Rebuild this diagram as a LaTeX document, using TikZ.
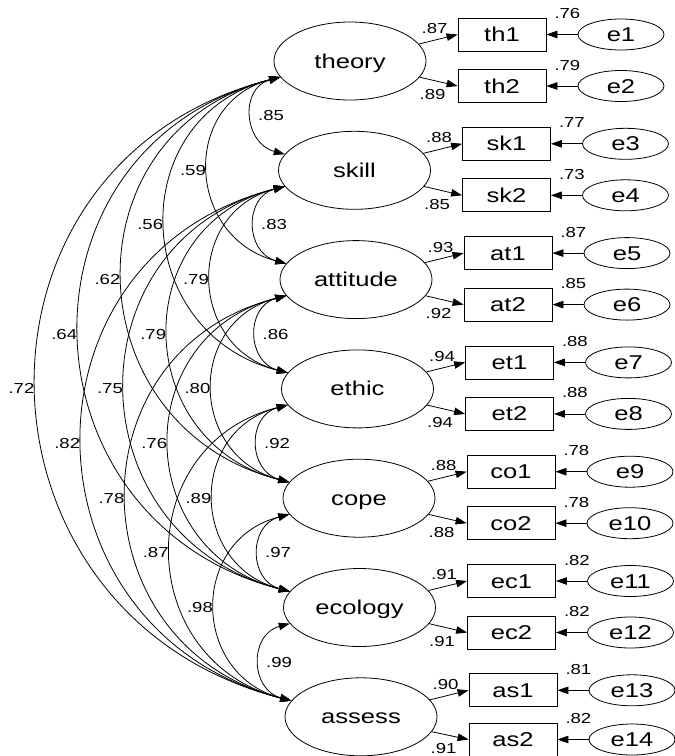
\documentclass[tikz,border=0pt]{standalone}
\usepackage{fontspec}
\setmainfont{Liberation Sans}[FakeStretch=1.28]
\usetikzlibrary{arrows.meta,calc,shapes.geometric}
\begin{document}
\begin{tikzpicture}[x=1pt,y=-1pt,
  every node/.style={inner sep=0pt},
  txt/.style={font=\fontsize{20}{20}\selectfont,text height=14.3pt,text depth=0.3pt},
  lat/.style={txt,ellipse,draw,line width=0.8pt,minimum width=152pt,minimum height=78pt},
  ind/.style={txt,rectangle,draw,line width=0.8pt,minimum width=88pt,minimum height=33pt},
  err/.style={txt,ellipse,draw,line width=0.8pt,minimum width=86pt,minimum height=31pt},
  lab/.style={font=\fontsize{14.5}{14.5}\selectfont},
  conn/.style={line width=0.8pt,-{Triangle[length=11pt,width=7.5pt]}},
  cov/.style={line width=0.8pt,{Triangle[length=11pt,width=7.5pt]}-{Triangle[length=11pt,width=7.5pt]}},
  inlab/.style={lab,midway,right=6pt},
  outlab/.style={lab,midway,left=2pt}
]
\useasboundingbox (0,0) rectangle (675,756);

% latent variables
\node[lat] (theory)   at (350,61)    {theory};
\node[lat] (skill)    at (354.5,170.3) {skill};
\node[lat] (attitude) at (356,279.6) {attitude};
\node[lat] (ethic)    at (357.5,388.9) {ethic};
\node[lat] (cope)     at (359,498.2) {cope};
\node[lat] (ecology)  at (359.5,607.5) {ecology};
\node[lat] (assess)   at (361,716.8) {assess};

% indicators
\node[ind] (th1) at (502,34.5)    {th1};
\node[ind] (th2) at (502,86)      {th2};
\node[ind] (sk1) at (506.5,143.8) {sk1};
\node[ind] (sk2) at (506.5,195.3) {sk2};
\node[ind] (at1) at (508,253.1)   {at1};
\node[ind] (at2) at (508,304.6)   {at2};
\node[ind] (et1) at (509.5,362.4) {et1};
\node[ind] (et2) at (509.5,413.9) {et2};
\node[ind] (co1) at (511,471.7)   {co1};
\node[ind] (co2) at (511,523.2)   {co2};
\node[ind] (ec1) at (511.5,581)   {ec1};
\node[ind] (ec2) at (511.5,632.5) {ec2};
\node[ind] (as1) at (513,690.3)   {as1};
\node[ind] (as2) at (513,739.5)   {as2};

% errors
\node[err] (e1)  at (621,34.5)    {e1};
\node[err] (e2)  at (621,86)      {e2};
\node[err] (e3)  at (625.5,143.8) {e3};
\node[err] (e4)  at (625.5,195.3) {e4};
\node[err] (e5)  at (627,253.1)   {e5};
\node[err] (e6)  at (627,304.6)   {e6};
\node[err] (e7)  at (628.5,362.4) {e7};
\node[err] (e8)  at (628.5,413.9) {e8};
\node[err] (e9)  at (630,471.7)   {e9};
\node[err] (e10) at (630,523.2)   {e10};
\node[err] (e11) at (630.5,581)   {e11};
\node[err] (e12) at (630.5,632.5) {e12};
\node[err] (e13) at (632,690.3)   {e13};
\node[err] (e14) at (632,739.5)   {e14};

% loadings, error paths and labels
\foreach \l/\a/\b/\la/\lb/\ea/\eb/\sa/\sb in {
  theory/th1/th2/.87/.89/e1/e2/.76/.79,
  skill/sk1/sk2/.88/.85/e3/e4/.77/.73,
  attitude/at1/at2/.93/.92/e5/e6/.87/.85,
  ethic/et1/et2/.94/.94/e7/e8/.88/.88,
  cope/co1/co2/.88/.88/e9/e10/.78/.78,
  ecology/ec1/ec2/.91/.91/e11/e12/.82/.82,
  assess/as1/as2/.90/.91/e13/e14/.81/.82}{
  \draw[conn] (\l) -- (\a.west);
  \draw[conn] (\l) -- (\b.west);
  \draw[conn] (\ea) -- (\a);
  \draw[conn] (\eb) -- (\b);
  \node[lab] at ($(\a.west)+(-23,-6)$) {\la};
  \node[lab] at ($(\b.west)+(-25,9)$) {\lb};
  \node[lab] at ($(\a.north east)+(21,-4)$) {\sa};
  \node[lab] at ($(\b.north east)+(21,-4)$) {\sb};
}

% covariances, d = 1
\draw[cov] (theory.193)   .. controls +(-41,11) and +(-41,-11) .. (skill.167)    node[inlab] {.85};
\draw[cov] (skill.193)    .. controls +(-41,11) and +(-41,-11) .. (attitude.167) node[inlab] {.83};
\draw[cov] (attitude.193) .. controls +(-41,11) and +(-41,-11) .. (ethic.167)    node[inlab] {.86};
\draw[cov] (ethic.193)    .. controls +(-41,11) and +(-41,-11) .. (cope.167)     node[inlab] {.92};
\draw[cov] (cope.193)     .. controls +(-41,11) and +(-41,-11) .. (ecology.167)  node[inlab] {.97};
\draw[cov] (ecology.193)  .. controls +(-41,11) and +(-41,-11) .. (assess.167)   node[inlab] {.99};
% d = 2
\draw[cov] (theory.193)   .. controls +(-100,26) and +(-100,-26) .. (attitude.167) node[outlab] {.59};
\draw[cov] (skill.193)    .. controls +(-100,26) and +(-100,-26) .. (ethic.167)    node[outlab] {.79};
\draw[cov] (attitude.193) .. controls +(-100,26) and +(-100,-26) .. (cope.167)     node[outlab] {.80};
\draw[cov] (ethic.193)    .. controls +(-100,26) and +(-100,-26) .. (ecology.167)  node[outlab] {.89};
\draw[cov] (cope.193)     .. controls +(-100,26) and +(-100,-26) .. (assess.167)   node[outlab] {.98};
% d = 3
\draw[cov] (theory.193)   .. controls +(-158,40) and +(-158,-40) .. (ethic.167)    node[outlab] {.56};
\draw[cov] (skill.193)    .. controls +(-158,40) and +(-158,-40) .. (cope.167)     node[outlab] {.79};
\draw[cov] (attitude.193) .. controls +(-158,40) and +(-158,-40) .. (ecology.167)  node[outlab] {.76};
\draw[cov] (ethic.193)    .. controls +(-158,40) and +(-158,-40) .. (assess.167)   node[outlab] {.87};
% d = 4
\draw[cov] (theory.193)   .. controls +(-216,55) and +(-216,-55) .. (cope.167)     node[outlab] {.62};
\draw[cov] (skill.193)    .. controls +(-216,55) and +(-216,-55) .. (ecology.167)  node[outlab] {.75};
\draw[cov] (attitude.193) .. controls +(-216,55) and +(-216,-55) .. (assess.167)   node[outlab] {.78};
% d = 5
\draw[cov] (theory.193)   .. controls +(-274,70) and +(-274,-70) .. (ecology.167)  node[outlab] {.64};
\draw[cov] (skill.193)    .. controls +(-274,70) and +(-274,-70) .. (assess.167)   node[outlab] {.82};
% d = 6
\draw[cov] (theory.193)   .. controls +(-332,85) and +(-332,-85) .. (assess.167)   node[outlab] {.72};
\end{tikzpicture}
\end{document}
